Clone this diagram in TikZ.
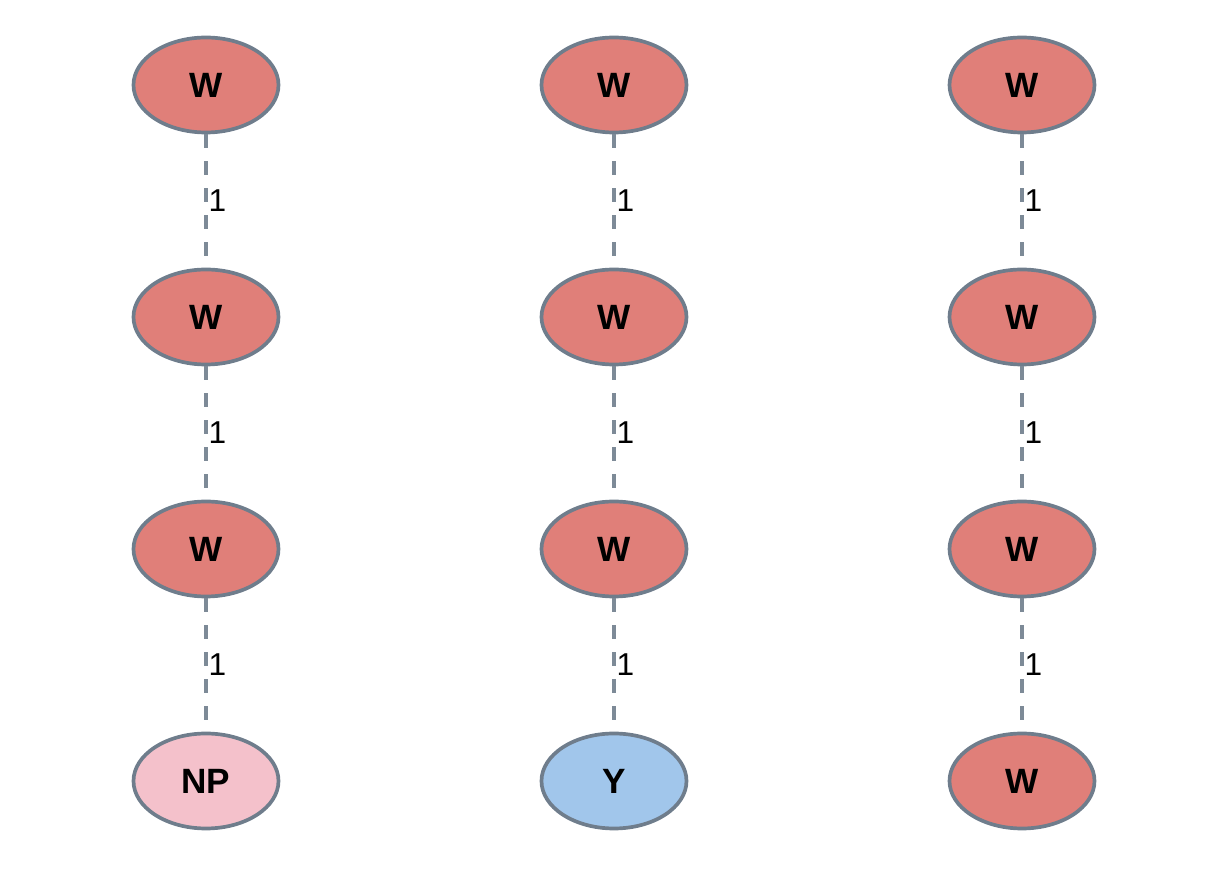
\documentclass[tikz,border=0pt]{standalone}
\usepackage{fontspec}
\setmainfont{Liberation Sans}
\definecolor{wred}{HTML}{E07F79}
\definecolor{nppink}{HTML}{F4C1CB}
\definecolor{yblue}{HTML}{A1C6EB}
\definecolor{edgegray}{HTML}{6F7D8C}
\tikzset{
	state/.style={ellipse, draw=edgegray, line width=2.1pt, minimum width=2.9cm, minimum height=1.9cm, inner sep=0pt, font=\bfseries\fontsize{20}{24}\selectfont},
	link/.style={draw=edgegray!90, line width=1.9pt, dash pattern=on 0.28cm off 0.26cm},
	weight/.style={right, inner sep=0.5pt, font=\fontsize{18}{22}\selectfont}
}
\usetikzlibrary{shapes.geometric}
\begin{document}
\begin{tikzpicture}
			\useasboundingbox (0,0) rectangle (24.32,17.4);
			\foreach \c\x in {1/4.12,2/12.28,3/20.44}{
				\foreach \r\y in {1/15.7,2/11.06,3/6.42}{
					\node[state, fill=wred] (n\c\r) at (\x,\y) {W};
				}
			}
			\node[state, fill=nppink] (n14) at (4.12,1.78) {NP};
			\node[state, fill=yblue] (n24) at (12.28,1.78) {Y};
			\node[state, fill=wred] (n34) at (20.44,1.78) {W};
			\foreach \c in {1,2,3}{
				\foreach \r\s in {1/2,2/3,3/4}{
					\draw[link] (n\c\r) -- node[weight] {1} (n\c\s);
				}
			}
		\end{tikzpicture}
\end{document}
